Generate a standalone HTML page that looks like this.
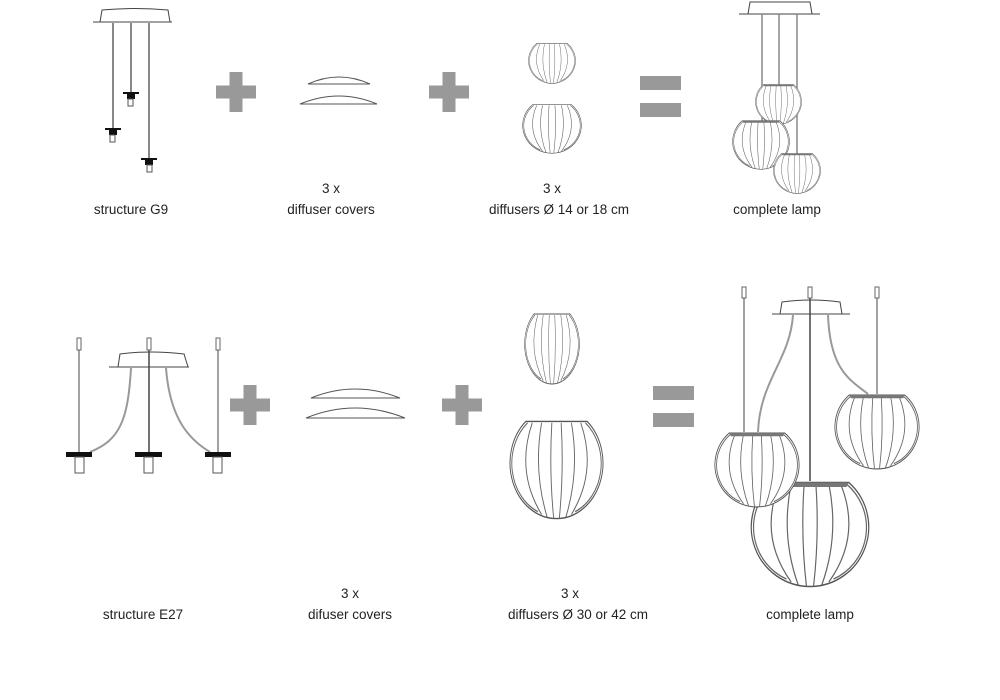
<!DOCTYPE html>
<html><head><meta charset="utf-8"><style>
html,body{margin:0;padding:0;background:#fff;width:1000px;height:700px;overflow:hidden}
svg{display:block}
text{font-family:"Liberation Sans",sans-serif;font-size:13.5px;fill:#222;text-anchor:middle}
</style></head><body>
<svg width="1000" height="700" viewBox="0 0 1000 700" xmlns="http://www.w3.org/2000/svg">
<defs>
<symbol id="g" viewBox="-51 -31 102 72" preserveAspectRatio="none">
<g fill="none" stroke="#666" stroke-width="1" vector-effect="non-scaling-stroke">
<path d="M -33 -30 A 50 40 0 0 0 0 40 A 50 40 0 0 0 33 -30 Z" fill="#fff" stroke="#555"/>
<path d="M -31 -29 A 47 38 0 0 0 -20 35"/>
<path d="M 31 -29 A 47 38 0 0 1 20 35"/>
<path d="M -26 -29 Q -44 6 -16 37"/>
<path d="M -16 -29 Q -25 6 -10 39"/>
<path d="M -5 -29 Q -8 6 -3 40"/>
<path d="M 5 -29 Q 8 6 3 40"/>
<path d="M 16 -29 Q 25 6 10 39"/>
<path d="M 26 -29 Q 44 6 16 37"/>
</g>
</symbol>
<symbol id="gt" viewBox="-51 -31 102 72" preserveAspectRatio="none">
<use href="#g" x="-51" y="-31" width="102" height="72"/>
<path d="M -33 -30 L 33 -30 L 31 -27 L -31 -27 Z" fill="#777"/>
</symbol>
<g id="plus"><rect x="-20" y="-6.5" width="40" height="13" fill="#999"/><rect x="-6.5" y="-20" width="13" height="40" fill="#999"/></g>
<g id="eq"><rect x="0" y="0" width="41" height="14" fill="#999"/><rect x="0" y="27" width="41" height="14" fill="#999"/></g>
</defs>

<g stroke="#444" fill="none" stroke-width="1">
<path d="M100 22 L102 10 Q135 7 168 10 L170 22" fill="#fff"/>
<line x1="93" y1="22" x2="172" y2="22"/>
<line x1="113" y1="23" x2="113" y2="128" stroke="#888" stroke-width="2"/>
<line x1="131" y1="23" x2="131" y2="92" stroke="#888" stroke-width="2"/>
<line x1="149" y1="23" x2="149" y2="158" stroke="#888" stroke-width="2"/>
</g>
<g fill="#111">
<rect x="105" y="128" width="16" height="2"/><rect x="109" y="130" width="8" height="5"/>
<rect x="123" y="92" width="16" height="2"/><rect x="127" y="94" width="8" height="5"/>
<rect x="141" y="158" width="16" height="2"/><rect x="145" y="160" width="8" height="5"/>
</g>
<g fill="#fff" stroke="#555"><rect x="110" y="135" width="5" height="7"/><rect x="128" y="99" width="5" height="7"/><rect x="147" y="165" width="5" height="7"/></g>

<use href="#plus" x="236" y="92"/>
<g fill="#fff" stroke="#555">
<path d="M308 84 Q339 70 370 84 Z"/>
<path d="M300 104 Q339 88 377 104 Z"/>
</g>
<use href="#plus" x="449" y="92"/>
<use href="#g" x="528" y="43" width="48" height="41"/>
<use href="#g" x="522" y="104" width="60" height="50"/>
<use href="#eq" x="640" y="76"/>

<g stroke="#444" fill="#fff">
<path d="M748 14 L750 2 L810 2 L812 14"/>
<line x1="739" y1="14" x2="820" y2="14"/>
<line x1="762" y1="14" x2="762" y2="122" stroke="#888" stroke-width="1.5"/>
<line x1="779" y1="14" x2="779" y2="86" stroke="#888" stroke-width="1.5"/>
<line x1="797" y1="14" x2="797" y2="155" stroke="#888" stroke-width="1.5"/>
</g>
<use href="#gt" x="755" y="84" width="47" height="41"/>
<use href="#gt" x="732" y="120" width="58" height="50"/>
<use href="#gt" x="773" y="153" width="48" height="41"/>

<text x="131" y="214">structure G9</text>
<text x="331" y="193">3 x</text>
<text x="331" y="214">diffuser covers</text>
<text x="552" y="193">3 x</text>
<text x="559" y="214">diffusers Ø 14 or 18 cm</text>
<text x="777" y="214">complete lamp</text>

<g stroke="#444" fill="none">
<path d="M118 367 L120 354 Q150 350 184 354 L188 367" fill="#fff"/>
<line x1="109" y1="367" x2="189" y2="367"/>
<path d="M131 368 C128 420 120 440 90 452" stroke="#999" stroke-width="2"/>
<path d="M166 368 C170 420 190 440 210 452" stroke="#999" stroke-width="2"/>
<line x1="79" y1="350" x2="79" y2="452"/>
<line x1="149" y1="350" x2="149" y2="452" stroke-width="1.5"/>
<line x1="218" y1="350" x2="218" y2="452"/>
<rect x="77" y="338" width="4" height="12" fill="#fff" stroke="#666"/>
<rect x="147" y="338" width="4" height="12" fill="#fff" stroke="#666"/>
<rect x="216" y="338" width="4" height="12" fill="#fff" stroke="#666"/>
</g>
<g fill="#111">
<rect x="66" y="452" width="26" height="5"/><rect x="135" y="452" width="27" height="5"/><rect x="205" y="452" width="26" height="5"/>
</g>
<g fill="#fff" stroke="#555"><rect x="75" y="457" width="9" height="16"/><rect x="144" y="457" width="9" height="16"/><rect x="213" y="457" width="9" height="16"/></g>

<use href="#plus" x="250" y="405"/>
<g fill="#fff" stroke="#555">
<path d="M311 398 Q355 380 400 398 Z"/>
<path d="M306 418 Q355 398 405 418 Z"/>
</g>
<use href="#plus" x="462" y="405"/>
<use href="#g" x="524" y="313" width="56" height="72"/>
<use href="#g" x="509" y="420" width="95" height="100"/>
<use href="#eq" x="653" y="386"/>

<g stroke="#444" fill="none">
<path d="M780 314 L782 302 Q811 298 840 302 L842 314" fill="#fff"/>
<line x1="772" y1="314" x2="850" y2="314"/>
<path d="M793 315 C790 360 760 380 758 432" stroke="#999" stroke-width="2"/>
<path d="M828 315 C830 370 850 380 868 394" stroke="#999" stroke-width="2"/>
<line x1="744" y1="298" x2="744" y2="432"/>
<line x1="810" y1="298" x2="810" y2="481" stroke-width="1.5"/>
<line x1="877" y1="298" x2="877" y2="394"/>
<rect x="742" y="287" width="4" height="11" fill="#fff" stroke="#666"/>
<rect x="808" y="287" width="4" height="11" fill="#fff" stroke="#666"/>
<rect x="875" y="287" width="4" height="11" fill="#fff" stroke="#666"/>
</g>
<use href="#gt" x="834" y="394" width="86" height="76"/>
<use href="#gt" x="750" y="481" width="120" height="107"/>
<use href="#gt" x="714" y="432" width="86" height="76"/>

<text x="143" y="619">structure E27</text>
<text x="350" y="598">3 x</text>
<text x="350" y="619">difuser covers</text>
<text x="570" y="598">3 x</text>
<text x="578" y="619">diffusers Ø 30 or 42 cm</text>
<text x="810" y="619">complete lamp</text>
</svg>
</body></html>
